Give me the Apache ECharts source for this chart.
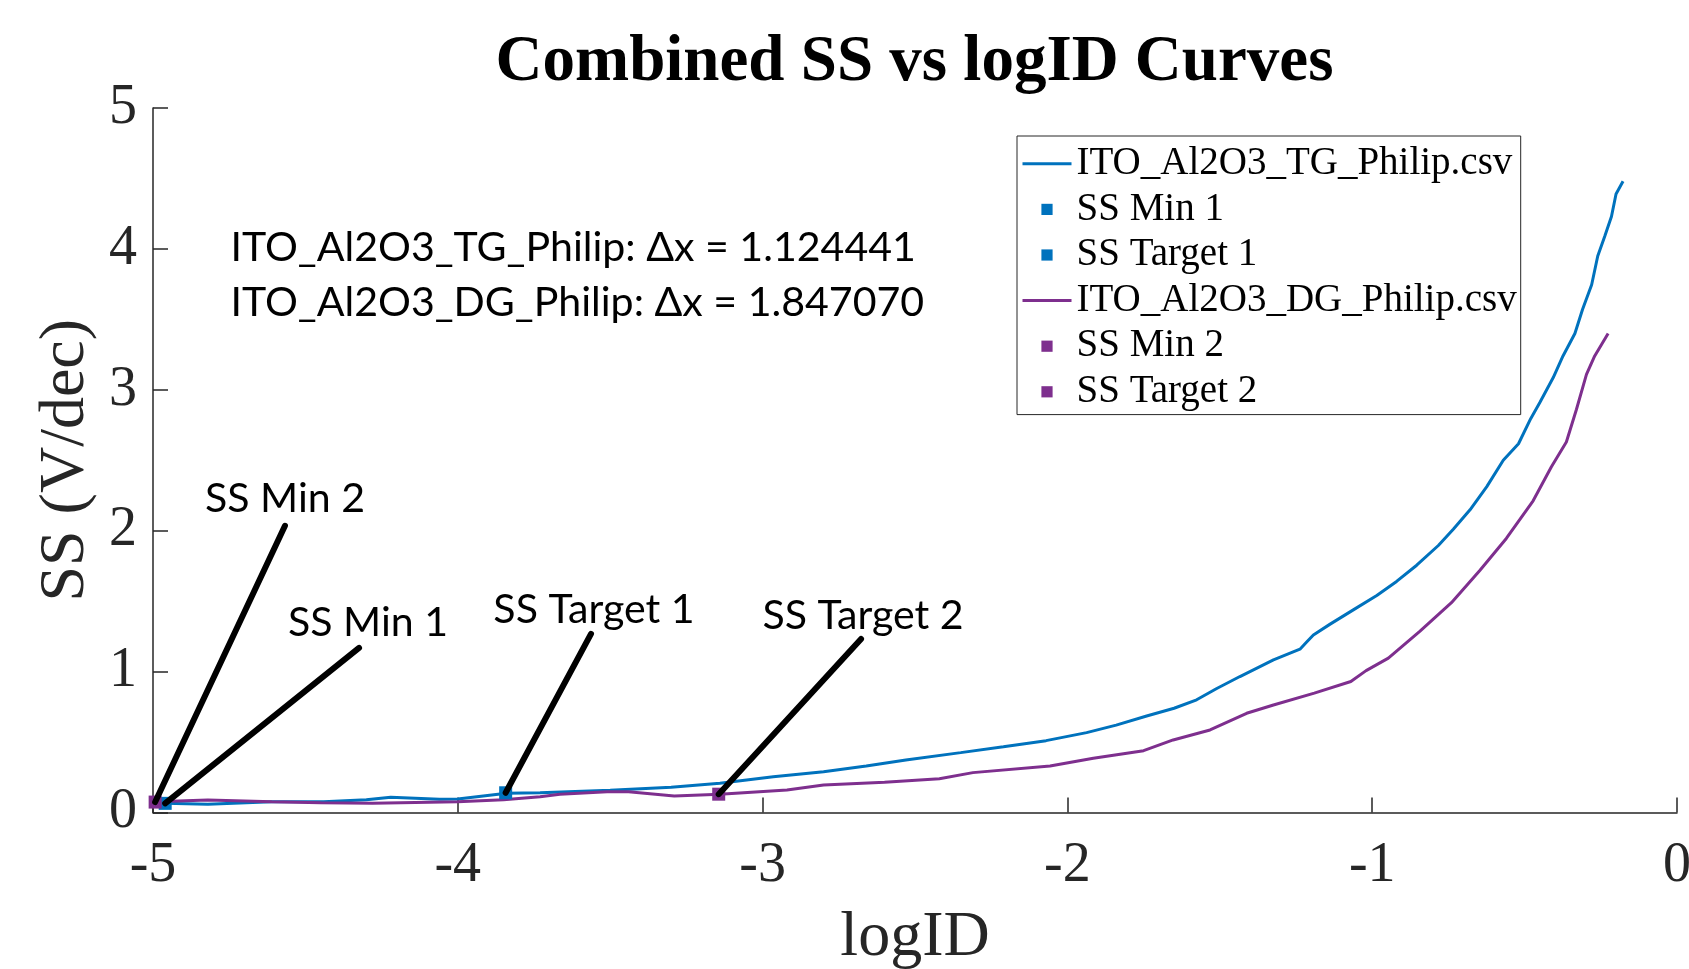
<!DOCTYPE html>
<html><head><meta charset="utf-8">
<script src="https://cdn.jsdelivr.net/npm/echarts@6/dist/echarts.min.js"></script>
<style>html,body{margin:0;padding:0;background:#fff}#c{width:1689px;height:969px}</style>
</head><body><div id="c"></div>
<script>
// ---- data ----
const titleText = 'Combined SS vs logID Curves';
const xAxisName = 'logID';
const yAxisName = 'SS (V/dec)';
const tgName = 'ITO_Al2O3_TG_Philip.csv';
const dgName = 'ITO_Al2O3_DG_Philip.csv';

const tgX = [-4.99, -4.96, -4.82, -4.61, -4.44, -4.3, -4.22, -4.06, -4.0, -3.84, -3.73, -3.5, -3.3, -3.14, -2.965, -2.8, -2.66, -2.53, -2.35, -2.21, -2.07, -1.937, -1.84, -1.74, -1.65, -1.576, -1.51, -1.434, -1.324, -1.237, -1.215, -1.193, -1.138, -1.062, -0.985, -0.92, -0.854, -0.783, -0.734, -0.679, -0.624, -0.57, -0.52, -0.48, -0.45, -0.406, -0.374, -0.335, -0.31, -0.28, -0.26, -0.237, -0.215, -0.2, -0.177];
const tgY = [0.075, 0.065, 0.058, 0.077, 0.077, 0.09, 0.108, 0.094, 0.095, 0.136, 0.14, 0.158, 0.18, 0.207, 0.254, 0.29, 0.33, 0.373, 0.425, 0.467, 0.51, 0.567, 0.62, 0.685, 0.74, 0.80, 0.88, 0.965, 1.083, 1.159, 1.21, 1.26, 1.337, 1.438, 1.54, 1.64, 1.755, 1.895, 2.01, 2.148, 2.313, 2.50, 2.617, 2.795, 2.91, 3.087, 3.24, 3.40, 3.57, 3.746, 3.95, 4.09, 4.23, 4.39, 4.48];

const dgX = [-4.99, -4.82, -4.61, -4.45, -4.28, -4.0, -3.85, -3.73, -3.665, -3.51, -3.44, -3.29, -3.14, -2.92, -2.80, -2.6, -2.42, -2.31, -2.057, -1.915, -1.75, -1.653, -1.532, -1.412, -1.324, -1.19, -1.07, -1.02, -0.947, -0.844, -0.74, -0.647, -0.56, -0.472, -0.412, -0.363, -0.33, -0.297, -0.27, -0.226];
const dgY = [0.077, 0.089, 0.077, 0.07, 0.065, 0.077, 0.09, 0.112, 0.13, 0.148, 0.148, 0.117, 0.13, 0.16, 0.195, 0.215, 0.24, 0.283, 0.33, 0.385, 0.439, 0.515, 0.586, 0.704, 0.763, 0.847, 0.93, 1.007, 1.096, 1.286, 1.489, 1.717, 1.945, 2.212, 2.454, 2.63, 2.86, 3.11, 3.24, 3.40];

const markerNames = ['SS Min 1', 'SS Target 1', 'SS Min 2', 'SS Target 2'];
const markerX = [-4.96, -3.843, -4.993, -3.144];
const markerY = [0.065, 0.14, 0.074, 0.13];
// text-arrow anchor points (data coordinates) for each marker annotation
const annotX = [-4.324, -3.563, -4.567, -2.677];
const annotY = [1.168, 1.268, 2.035, 1.232];

const deltaLines = ['ITO_Al2O3_TG_Philip: \u0394x = 1.124441', 'ITO_Al2O3_DG_Philip: \u0394x = 1.847070'];

const xTicks = { min: -5, max: 0, interval: 1 };
const yTicks = { min: 0, max: 5, interval: 1 };

// ---- styles ----
const BLUE = '#0072BD', PURPLE = '#7E2F8E', AX = '#262626';
const SERIF = "'Liberation Serif', 'Times New Roman', serif";
const SANS = "Lato, 'Open Sans', sans-serif";
const labelNudge = [[9, -3], [3, -2], [0, -5], [2, -1]]; // px offsets of annotation texts

const ctx = document.createElement('canvas').getContext('2d');
ctx.font = '100px ' + SANS;
const sansSize = Math.round(100 * 685 / ctx.measureText(deltaLines[0]).width * 10) / 10;

const markerColors = [BLUE, BLUE, PURPLE, PURPLE];

const zip = (a, b) => a.map((v, i) => [v, b[i]]);

const markerSeries = markerNames.map((n, i) => ({
  name: n, type: 'line', data: [[markerX[i], markerY[i]]],
  symbol: 'rect', symbolSize: 13, showSymbol: true,
  itemStyle: { color: markerColors[i] },
  lineStyle: { width: 0, opacity: 0 },
  z: 4, silent: true,
  markLine: {
    silent: true, symbol: ['none', 'none'], animation: false,
    lineStyle: { color: '#000', width: 6, type: 'solid', opacity: 1, cap: 'round' },
    label: { show: false },
    emphasis: { disabled: true },
    data: [[{ coord: [annotX[i], annotY[i]] }, { coord: [markerX[i], markerY[i]] }]]
  },
  markPoint: {
    silent: true, symbol: 'rect', symbolSize: 0, animation: false,
    label: { show: true, position: 'top', distance: 2, formatter: n, offset: labelNudge[i],
      fontFamily: SANS, fontSize: sansSize, color: '#000' },
    data: [{ coord: [annotX[i], annotY[i]] }]
  }
}));

const chart = echarts.init(document.getElementById('c'), null, { renderer: 'canvas' });
chart.setOption({
  animation: false,
  backgroundColor: '#fff',
  title: {
    text: titleText, left: 909.5, top: 26, textAlign: 'center',
    textStyle: { fontFamily: SERIF, fontWeight: 'bold', fontSize: 65, color: '#000' }
  },
  grid: { left: 153, right: 12, top: 108, bottom: 156.5, containLabel: false, outerBoundsMode: 'none' },
  xAxis: {
    type: 'value', min: xTicks.min, max: xTicks.max, interval: xTicks.interval,
    name: xAxisName, nameLocation: 'middle', nameGap: 94,
    nameTextStyle: { fontFamily: SERIF, fontSize: 64, color: AX },
    axisLine: { show: true, onZero: false, lineStyle: { color: AX, width: 1.5 } },
    axisTick: { show: true, inside: true, length: 15, lineStyle: { color: AX, width: 1.5 } },
    axisLabel: { fontFamily: SERIF, fontSize: 56, color: AX, margin: 26 },
    splitLine: { show: false }
  },
  yAxis: {
    type: 'value', min: yTicks.min, max: yTicks.max, interval: yTicks.interval,
    name: yAxisName, nameLocation: 'middle', nameGap: 48, nameRotate: 90,
    nameTextStyle: { fontFamily: SERIF, fontSize: 64, color: AX },
    axisLine: { show: true, onZero: false, lineStyle: { color: AX, width: 1.5 } },
    axisTick: { show: true, inside: true, length: 15, lineStyle: { color: AX, width: 1.5 } },
    axisLabel: { fontFamily: SERIF, fontSize: 56, color: AX, margin: 16 },
    splitLine: { show: false }
  },
  legend: {
    orient: 'vertical', left: 1017, top: 136,
    padding: [5, 4, 0, 4], itemGap: 0, itemWidth: 49, itemHeight: 14,
    borderColor: AX, borderWidth: 1, backgroundColor: '#fff',
    selectedMode: false,
    lineStyle: { width: 3 },
    textStyle: { fontFamily: SERIF, fontSize: 39, color: '#000', lineHeight: 45.6 },
    data: [
      { name: tgName, itemStyle: { opacity: 0 } },
      { name: markerNames[0] },
      { name: markerNames[1] },
      { name: dgName, itemStyle: { opacity: 0 } },
      { name: markerNames[2] },
      { name: markerNames[3] }
    ]
  },
  graphic: deltaLines.map((t, i) => ({
    type: 'text', x: 230.5, y: 248 + i * 55, silent: true,
    style: { text: t, fontFamily: SANS, fontSize: sansSize, fill: '#000',
      align: 'left', verticalAlign: 'middle', textAlign: 'left', textVerticalAlign: 'middle' }
  })),
  series: [
    { name: tgName, type: 'line', data: zip(tgX, tgY), symbol: 'none', showSymbol: false,
      lineStyle: { color: BLUE, width: 3 }, itemStyle: { color: BLUE }, z: 2, silent: true },
    { name: dgName, type: 'line', data: zip(dgX, dgY), symbol: 'none', showSymbol: false,
      lineStyle: { color: PURPLE, width: 3 }, itemStyle: { color: PURPLE }, z: 2, silent: true },
    ...markerSeries
  ]
});
</script>
</body></html>
